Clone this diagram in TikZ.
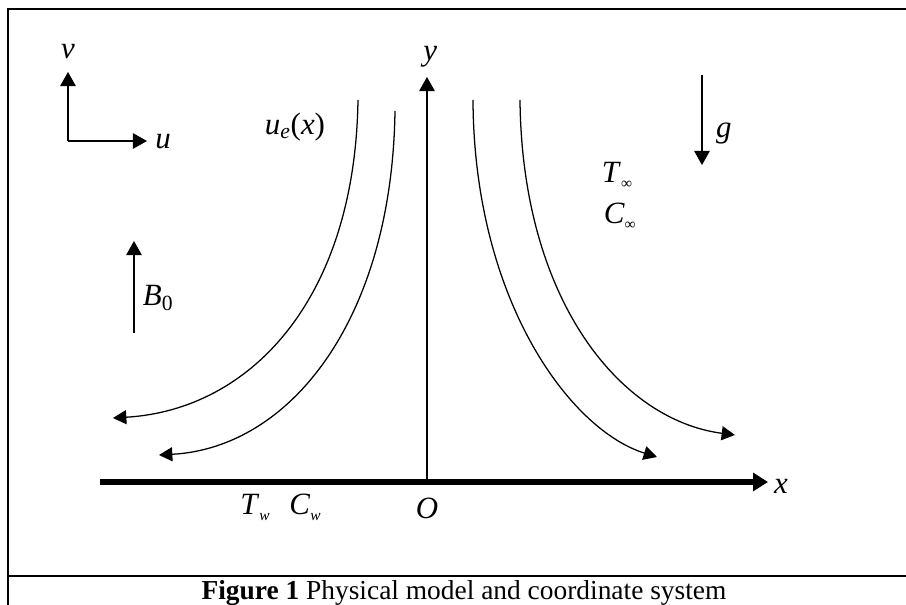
\documentclass[tikz,border=0pt]{standalone}
\usepackage{fontspec}
\setmainfont{Liberation Serif}
\usetikzlibrary{arrows.meta}

\newcommand{\lowsub}[1]{\raisebox{-0.45ex}{\fontsize{11}{12}\selectfont #1}}

\tikzset{
  lbl/.style={font=\fontsize{22}{24}\selectfont, inner sep=0pt},
  flow/.style={line width=0.9pt, -{Triangle[length=9.5pt,width=10pt]}},
  axis/.style={line width=1pt, -{Triangle[length=10pt,width=11pt]}},
  wall/.style={line width=4.3pt, -{Triangle[length=10.5pt,width=12.5pt]}},
  frame/.style={line width=1.8pt, line join=miter},
}

\begin{document}
\begin{tikzpicture}[>=latex]
        \useasboundingbox (-10.675,-3.075) rectangle (11.975,12.05);
        % ==== FRAME ====
        \draw[frame] (12.3,11.825) -- (-10.475,11.825) -- (-10.475,-3.3);
        \draw[frame] (-10.475,-2.35) -- (12.3,-2.35);
        % ==== AXES ====
        \coordinate (O) at (0,0);
        \coordinate (xs) at (-8.175,0);
        \coordinate (xe) at (8.525,0);
        \coordinate (ye) at (0,10.125);
        \draw[axis] (O) -- (ye);
        \draw[wall] (xs) -- (xe);
        \node[lbl] (xl) at (8.85,-0.12) {\textit{x}};
        \node[lbl] (yl) at (0.08,10.62) {\textit{y}};
        \node[lbl] (Ol) at (0,-0.65) {\textit{O}};
        % ==== VELOCITY DIRECTIONS ====
        \coordinate (uv) at (-8.975,8.525);
        \coordinate (ve) at (-8.975,10.25);
        \coordinate (ue) at (-7.0,8.525);
        \draw[axis] (uv) -- (ve);
        \draw[axis, line join=miter] (uv) -- (ue);
        \node[lbl] (vl) at (-8.975,10.75) {\textit{v}};
        \node[lbl] (ul) at (-6.6,8.5) {\textit{u}};
        % ==== MAGNETIC FIELD AND GRAVITY ====
        \coordinate (Bs) at (-7.325,3.725);
        \coordinate (Be) at (-7.325,6.025);
        \draw[axis] (Bs) -- (Be);
        \node[lbl] (Bl) at (-6.72,4.6) {\textit{B}\textsubscript{0}};
        \coordinate (gs) at (6.875,10.175);
        \coordinate (ge) at (6.875,7.925);
        \draw[axis] (gs) -- (ge);
        \node[lbl] (gl) at (7.42,8.72) {\textit{g}};
        % ==== STREAMLINES ====
        \coordinate (l1s) at (-1.725,9.55);
        \coordinate (l1e) at (-7.85,1.6);
        \coordinate (l2s) at (-0.8,9.275);
        \coordinate (l2e) at (-6.7,0.675);
        \coordinate (r1s) at (1.15,9.55);
        \coordinate (r1e) at (5.75,0.625);
        \coordinate (r2s) at (2.325,9.55);
        \coordinate (r2e) at (7.7,1.175);
        \draw[flow] (l1s) .. controls (-1.8,4.55) and (-4.425,1.8) .. (l1e);
        \draw[flow] (l2s) .. controls (-0.875,4.05) and (-3.425,0.85) .. (l2e);
        \draw[flow] (r1s) .. controls (1.175,4.55) and (3.575,1.3) .. (r1e);
        \draw[flow] (r2s) .. controls (2.375,4.55) and (4.825,1.55) .. (r2e);
        \node[lbl] (uel) at (-3.3,8.875) {\textit{u}\textsubscript{\textit{e}}(\textit{x})};
        % ==== AMBIENT AND WALL CONDITIONS ====
        \node[lbl] (Tinf) at (4.75,7.67) {\textit{T}\lowsub{∞}};
        \node[lbl] (Cinf) at (4.82,6.64) {\textit{C}\lowsub{∞}};
        \node[lbl] (Tw) at (-4.3,-0.63) {\textit{T}\lowsub{\textit{w}}};
        \node[lbl] (Cw) at (-3.05,-0.63) {\textit{C}\lowsub{\textit{w}}};

        % ==== Caption ====
        \node[anchor=base, font=\fontsize{19.5}{24}\selectfont, inner sep=0pt] (cap) at (0.925,-2.94)
            {\textbf{Figure 1} Physical model and coordinate system};
\end{tikzpicture}
\end{document}
